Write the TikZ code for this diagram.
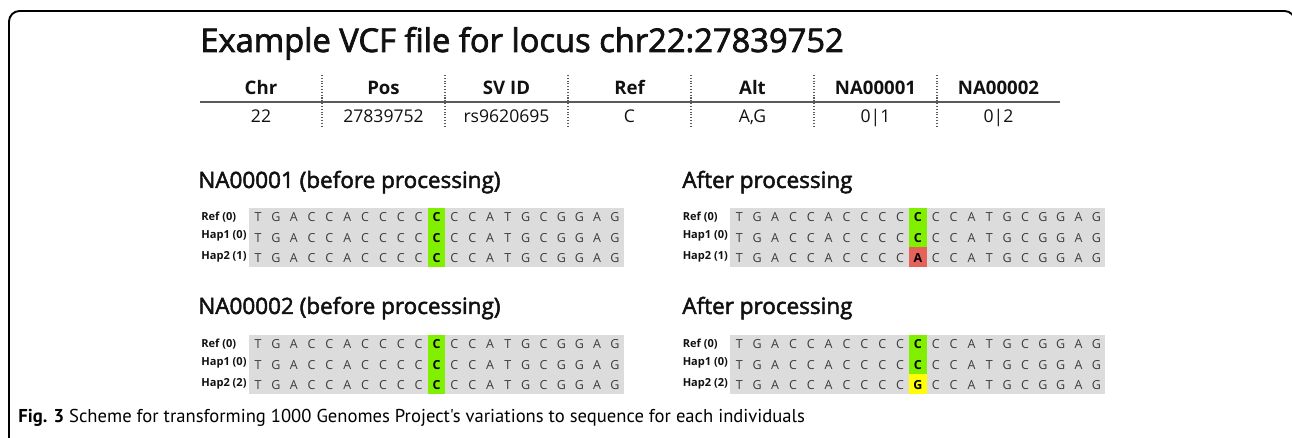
\documentclass[tikz,border=0pt]{standalone}
\usepackage{fontspec}
\setmainfont{Open Sans}
\newfontfamily\semifont{Open Sans}[FakeBold=2.2]
\newfontfamily\capfont{PT Sans}
\usepackage{xcolor}
\usepackage{tikz}
\usetikzlibrary{positioning, calc}
\definecolor{seqgray}{HTML}{DCDCDC}
\definecolor{snpgreen}{HTML}{80F000}
\definecolor{snpred}{HTML}{E5625A}
\definecolor{snpyellow}{HTML}{FFFF00}
\definecolor{basegray}{HTML}{3C3C3C}
\definecolor{rulegray}{HTML}{5A5A5A}
\definecolor{dark}{HTML}{111111}
\tikzset{
    figtitle/.style={
        font=\semifont\fontsize{18.6}{20}\selectfont, text=dark,
        anchor=base west, inner sep=0pt
    },
    paneltitle/.style={
        font=\semifont\fontsize{12.8}{14}\selectfont, text=dark,
        anchor=base west, inner sep=0pt
    },
    headcell/.style={
        font=\fontsize{10.6}{12}\selectfont\bfseries, text=dark,
        anchor=base, inner sep=0pt
    },
    datacell/.style={
        font=\fontsize{10}{12}\selectfont, text=dark,
        anchor=base, inner sep=0pt
    },
    rowlab/.style={
        font=\fontsize{6.3}{7}\selectfont\bfseries, text=dark,
        anchor=base west, inner sep=0pt
    },
    basecell/.style={
        font=\fontsize{7.1}{8}\selectfont, text=basegray,
        anchor=base, inner sep=0pt
    },
    snpcell/.style={
        font=\fontsize{7.1}{8}\selectfont\bfseries, text=black,
        anchor=base, inner sep=0pt
    },
    colsep/.style={
        densely dotted, line width=0.6pt, color=rulegray
    },
    headrule/.style={
        line width=1.1pt, color=rulegray
    },
    figframe/.style={
        line width=1.1pt, color=black, rounded corners=0.21cm
    },
}
% one block of aligned haplotypes; #1 name, #2 Hap2 label, #3 Hap1 fill, #4 Hap2 fill, #5 Hap2 base
\newcommand{\seqpanel}[5]{%
    \fill[seqgray] (249,0) rectangle (624,59);
    \fill[snpgreen] (427.6,0) rectangle (445.4,19.7);
    \fill[#3] (427.6,19.7) rectangle (445.4,39.3);
    \fill[#4] (427.6,39.3) rectangle (445.4,59);
    \node[rowlab] (#1lref) at (201,12.5) {Ref (0)};
    \node[rowlab] (#1lhapa) at (201,30.5) {Hap1 (0)};
    \node[rowlab] (#1lhapb) at (201,51.5) {#2};
    \foreach \b [count=\i from 0] in {T,G,A,C,C,A,C,C,C,C,C,C,C,A,T,G,C,G,G,A,G} {
        \ifnum\i=10\else
            \node[basecell] (#1ref\i) at (258+17.85*\i,13.5) {\b};
            \node[basecell] (#1hapa\i) at (258+17.85*\i,34.5) {\b};
            \node[basecell] (#1hapb\i) at (258+17.85*\i,55) {\b};
        \fi
    }
    \node[snpcell] (#1ref10) at (436.5,13.5) {C};
    \node[snpcell] (#1hapa10) at (436.5,34.5) {C};
    \node[snpcell] (#1hapb10) at (436.5,55) {#5};
}

\begin{document}
\begin{tikzpicture}[x=0.02cm, y=-0.02cm]

    \useasboundingbox (0,0) rectangle (1292,438);
    \clip (0,0) rectangle (1292,438);

    % ── Frame ──
    \draw[figframe] (9,11) rectangle (1295,470);

    % ── VCF table ──
    \node[figtitle] (title) at (200,52) {Example VCF file for locus chr22:27839752};
    \foreach \nm/\cx/\hd/\dt in {chr/261/Chr/22, pos/383.5/Pos/27839752, svid/506.5/SV ID/rs9620695,
        ref/629.5/Ref/C, alt/752.5/Alt/{A,G}, sa/875.5/NA00001/0|1, sb/998.5/NA00002/0|2} {
        \node[headcell] (h\nm) at (\cx,95) {\hd};
        \node[datacell] (d\nm) at (\cx,123) {\dt};
    }
    \foreach \sx in {322,445,568,691,814,937} {
        \draw[colsep] (\sx,75) -- (\sx,128);
    }
    \draw[headrule] (200,102) -- (1060,102);

    % ── NA00001 ──
    \node[paneltitle] (beforea) at (198,188) {NA00001 (before processing)};
    \node[paneltitle] (aftera) at (682,188) {After processing};
    \begin{scope}[shift={(0,208)}]
        \seqpanel{ba}{Hap2 (1)}{snpgreen}{snpgreen}{C}
    \end{scope}
    \begin{scope}[shift={(481.4,208)}]
        \seqpanel{aa}{Hap2 (1)}{snpgreen}{snpred}{A}
    \end{scope}

    % ── NA00002 ──
    \node[paneltitle] (beforeb) at (198,314) {NA00002 (before processing)};
    \node[paneltitle] (afterb) at (682,314) {After processing};
    \begin{scope}[shift={(0,335)}]
        \seqpanel{bb}{Hap2 (2)}{snpgreen}{snpgreen}{C}
    \end{scope}
    \begin{scope}[shift={(481.4,335)}]
        \seqpanel{ab}{Hap2 (2)}{snpgreen}{snpyellow}{G}
    \end{scope}

    % ── Caption ──
    \node[anchor=base west, inner sep=0pt, font=\capfont\fontsize{10.6}{12}\selectfont] (caption) at (18,423)
        {\textbf{Fig. 3} Scheme for transforming 1000 Genomes Project's variations to sequence for each individuals};

\end{tikzpicture}
\end{document}
